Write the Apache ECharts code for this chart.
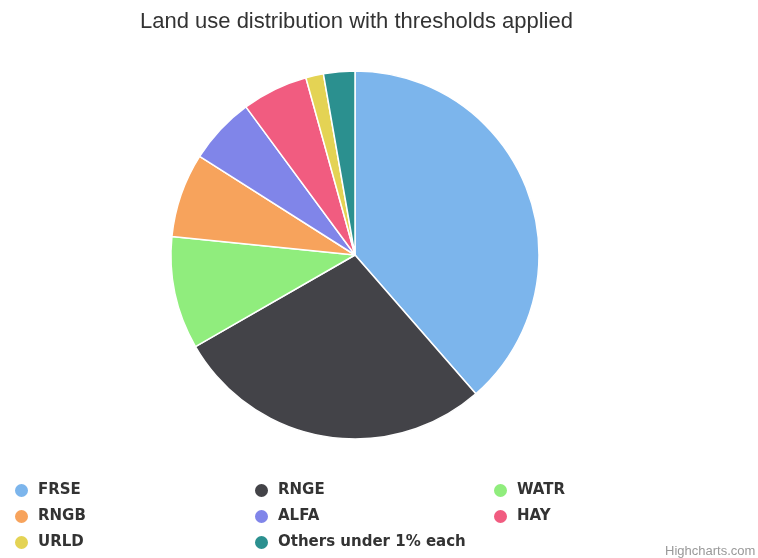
<!DOCTYPE html>
<html>
<head>
<meta charset="utf-8">
<script src="https://cdn.jsdelivr.net/npm/echarts@6/dist/echarts.min.js"></script>
<style>html,body{margin:0;padding:0;background:#fff;}#c{width:758px;height:558px;}</style>
</head>
<body>
<div id="c"></div>
<script>
const categories = ["FRSE", "RNGE", "WATR", "RNGB", "ALFA", "HAY", "URLD", "Others under 1% each"];
const values = [38.6, 28.1, 9.9, 7.4, 5.9, 5.8, 1.55, 2.75];
const colors = ["#7cb5ec", "#434348", "#90ed7d", "#f7a35c", "#8085e9", "#f15c80", "#e4d354", "#2b908f"];
const legendCols = [["FRSE", "RNGB", "URLD"], ["RNGE", "ALFA", "Others under 1% each"], ["WATR", "HAY"]];
const legendLefts = [13, 253, 492];

const chart = echarts.init(document.getElementById('c'));
const legendText = {fontFamily: "'DejaVu Sans', sans-serif", fontWeight: 'bold', fontSize: 15, lineHeight: 15, color: '#333', padding: [0, 0, 0, 4]};
chart.setOption({
  animation: false,
  color: colors,
  title: {
    text: 'Land use distribution with thresholds applied',
    left: 135, top: 6,
    textStyle: {fontFamily: "'Liberation Sans', Arial, sans-serif", fontWeight: 'normal', fontSize: 22, color: '#333'}
  },
  legend: legendCols.map((col, i) => ({
    orient: 'vertical', left: legendLefts[i], top: 482, height: 90, padding: 0,
    data: col, icon: 'circle', itemWidth: 15, itemHeight: 15, itemGap: 9,
    textStyle: legendText
  })),
  graphic: [{type: 'text', left: 665, top: 545, style: {text: 'Highcharts.com', fontSize: 13, fill: '#999', fontFamily: "'Liberation Sans', Arial, sans-serif"}}],
  series: [{
    type: 'pie', center: [355, 255], radius: 184, startAngle: 90, clockwise: true,
    label: {show: false}, labelLine: {show: false},
    itemStyle: {borderColor: '#fff', borderWidth: 1.5},
    data: categories.map((c, i) => ({name: c, value: values[i]}))
  }]
});
</script>
</body>
</html>
